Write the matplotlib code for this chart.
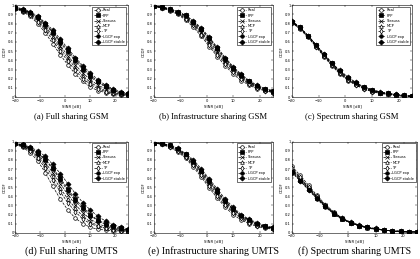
import matplotlib
matplotlib.use("Agg")
import matplotlib.pyplot as plt

# SINR grid where the curves are sampled (dB)
sinr = [-20, -17, -14, -11, -8, -5, -2, 1, 4, 7, 10, 13, 16, 19, 22, 25]

models = ["Real", "PPP", "Strauss", "MCP", "TP", "LGCP exp", "LGCP stable"]

captions = [
    "(a) Full sharing GSM",
    "(b) Infrastructure sharing GSM",
    "(c) Spectrum sharing GSM",
    "(d) Full sharing UMTS",
    "(e) Infrastructure sharing UMTS",
    "(f) Spectrum sharing UMTS",
]

full_gsm = [
    [0.96, 0.93, 0.88, 0.80, 0.70, 0.58, 0.46, 0.35, 0.25, 0.17, 0.11, 0.07, 0.05, 0.03, 0.02, 0.02],
    [0.97, 0.95, 0.92, 0.87, 0.80, 0.71, 0.61, 0.51, 0.41, 0.32, 0.24, 0.17, 0.12, 0.08, 0.05, 0.03],
    [0.97, 0.95, 0.91, 0.85, 0.77, 0.67, 0.56, 0.45, 0.35, 0.26, 0.19, 0.13, 0.09, 0.06, 0.04, 0.03],
    [0.97, 0.94, 0.90, 0.84, 0.75, 0.65, 0.53, 0.42, 0.32, 0.23, 0.16, 0.11, 0.07, 0.05, 0.03, 0.02],
    [0.97, 0.94, 0.89, 0.82, 0.73, 0.62, 0.50, 0.39, 0.29, 0.20, 0.14, 0.09, 0.06, 0.04, 0.03, 0.02],
    [0.97, 0.95, 0.92, 0.86, 0.79, 0.70, 0.59, 0.49, 0.39, 0.30, 0.22, 0.16, 0.11, 0.07, 0.05, 0.03],
    [0.98, 0.96, 0.93, 0.88, 0.81, 0.73, 0.63, 0.53, 0.43, 0.34, 0.26, 0.19, 0.13, 0.09, 0.06, 0.04],
]

infra_gsm = [
    [0.99, 0.97, 0.94, 0.90, 0.84, 0.76, 0.66, 0.55, 0.44, 0.34, 0.25, 0.18, 0.13, 0.09, 0.07, 0.05],
    [0.99, 0.98, 0.96, 0.93, 0.89, 0.82, 0.74, 0.64, 0.53, 0.42, 0.32, 0.24, 0.17, 0.12, 0.09, 0.07],
    [0.99, 0.98, 0.95, 0.92, 0.87, 0.80, 0.71, 0.61, 0.50, 0.39, 0.30, 0.22, 0.16, 0.11, 0.08, 0.06],
    [0.99, 0.97, 0.95, 0.91, 0.86, 0.79, 0.70, 0.59, 0.48, 0.38, 0.29, 0.21, 0.15, 0.11, 0.08, 0.06],
    [0.99, 0.97, 0.95, 0.91, 0.85, 0.78, 0.68, 0.57, 0.46, 0.36, 0.27, 0.20, 0.14, 0.10, 0.07, 0.05],
    [0.99, 0.98, 0.96, 0.93, 0.88, 0.81, 0.73, 0.63, 0.52, 0.41, 0.31, 0.23, 0.17, 0.12, 0.09, 0.06],
    [0.99, 0.98, 0.96, 0.93, 0.89, 0.83, 0.75, 0.65, 0.54, 0.43, 0.33, 0.25, 0.18, 0.13, 0.09, 0.07],
]

spectrum_gsm = [
    [0.81, 0.74, 0.65, 0.55, 0.44, 0.34, 0.25, 0.18, 0.13, 0.09, 0.06, 0.04, 0.03, 0.02, 0.01, 0.01],
    [0.82, 0.76, 0.67, 0.57, 0.46, 0.37, 0.28, 0.21, 0.15, 0.11, 0.08, 0.05, 0.04, 0.02, 0.02, 0.01],
    [0.82, 0.75, 0.66, 0.56, 0.46, 0.36, 0.27, 0.20, 0.14, 0.10, 0.07, 0.05, 0.03, 0.02, 0.01, 0.01],
    [0.82, 0.75, 0.66, 0.56, 0.45, 0.35, 0.26, 0.19, 0.14, 0.10, 0.07, 0.05, 0.03, 0.02, 0.01, 0.01],
    [0.81, 0.75, 0.66, 0.55, 0.45, 0.35, 0.26, 0.19, 0.13, 0.09, 0.06, 0.04, 0.03, 0.02, 0.01, 0.01],
    [0.82, 0.76, 0.67, 0.57, 0.47, 0.37, 0.28, 0.21, 0.15, 0.11, 0.08, 0.05, 0.04, 0.03, 0.02, 0.01],
    [0.83, 0.76, 0.67, 0.57, 0.47, 0.37, 0.29, 0.22, 0.16, 0.11, 0.08, 0.06, 0.04, 0.03, 0.02, 0.01],
]

full_umts = [
    [0.97, 0.94, 0.88, 0.79, 0.66, 0.51, 0.37, 0.25, 0.16, 0.10, 0.06, 0.04, 0.03, 0.02, 0.02, 0.01],
    [0.98, 0.96, 0.93, 0.88, 0.81, 0.71, 0.60, 0.48, 0.37, 0.28, 0.20, 0.14, 0.10, 0.07, 0.05, 0.03],
    [0.98, 0.96, 0.92, 0.86, 0.77, 0.66, 0.54, 0.42, 0.31, 0.22, 0.15, 0.10, 0.07, 0.05, 0.03, 0.02],
    [0.98, 0.95, 0.91, 0.84, 0.74, 0.62, 0.49, 0.37, 0.27, 0.18, 0.12, 0.08, 0.05, 0.04, 0.03, 0.02],
    [0.97, 0.95, 0.90, 0.82, 0.71, 0.58, 0.45, 0.33, 0.23, 0.15, 0.10, 0.07, 0.05, 0.03, 0.02, 0.02],
    [0.98, 0.96, 0.93, 0.87, 0.80, 0.70, 0.58, 0.46, 0.35, 0.26, 0.19, 0.13, 0.09, 0.06, 0.04, 0.03],
    [0.98, 0.97, 0.94, 0.90, 0.84, 0.75, 0.65, 0.54, 0.43, 0.33, 0.25, 0.18, 0.13, 0.09, 0.06, 0.04],
]

infra_umts = [
    [0.99, 0.97, 0.94, 0.89, 0.82, 0.72, 0.61, 0.49, 0.38, 0.28, 0.20, 0.14, 0.10, 0.07, 0.05, 0.04],
    [0.99, 0.98, 0.96, 0.92, 0.86, 0.78, 0.68, 0.57, 0.46, 0.35, 0.26, 0.19, 0.14, 0.10, 0.07, 0.05],
    [0.99, 0.98, 0.95, 0.91, 0.85, 0.77, 0.66, 0.55, 0.44, 0.33, 0.25, 0.18, 0.13, 0.09, 0.07, 0.05],
    [0.99, 0.97, 0.95, 0.91, 0.84, 0.75, 0.65, 0.53, 0.42, 0.32, 0.23, 0.17, 0.12, 0.09, 0.06, 0.05],
    [0.99, 0.97, 0.94, 0.90, 0.83, 0.74, 0.63, 0.51, 0.40, 0.30, 0.22, 0.16, 0.11, 0.08, 0.06, 0.04],
    [0.99, 0.98, 0.96, 0.92, 0.86, 0.78, 0.68, 0.57, 0.45, 0.35, 0.26, 0.19, 0.14, 0.10, 0.07, 0.05],
    [0.99, 0.98, 0.96, 0.93, 0.87, 0.80, 0.70, 0.59, 0.48, 0.37, 0.28, 0.20, 0.15, 0.11, 0.08, 0.06],
]

spectrum_umts = [
    [0.73, 0.63, 0.52, 0.41, 0.31, 0.23, 0.16, 0.11, 0.08, 0.05, 0.04, 0.03, 0.02, 0.01, 0.01, 0.01],
    [0.68, 0.58, 0.48, 0.38, 0.29, 0.21, 0.15, 0.11, 0.08, 0.06, 0.04, 0.03, 0.02, 0.02, 0.01, 0.01],
    [0.70, 0.60, 0.49, 0.39, 0.30, 0.22, 0.16, 0.11, 0.08, 0.06, 0.04, 0.03, 0.02, 0.01, 0.01, 0.01],
    [0.69, 0.59, 0.49, 0.39, 0.29, 0.21, 0.15, 0.11, 0.08, 0.05, 0.04, 0.03, 0.02, 0.01, 0.01, 0.01],
    [0.71, 0.61, 0.50, 0.40, 0.30, 0.22, 0.16, 0.11, 0.08, 0.06, 0.04, 0.03, 0.02, 0.01, 0.01, 0.01],
    [0.67, 0.57, 0.47, 0.37, 0.28, 0.21, 0.15, 0.11, 0.08, 0.06, 0.04, 0.03, 0.02, 0.02, 0.01, 0.01],
    [0.66, 0.57, 0.47, 0.38, 0.29, 0.22, 0.16, 0.12, 0.09, 0.06, 0.05, 0.03, 0.02, 0.02, 0.01, 0.01],
]

panels = [full_gsm, infra_gsm, spectrum_gsm, full_umts, infra_umts, spectrum_umts]

# marker, filled?
styles = [("o", False), ("s", True), ("x", True), ("^", False),
          ("d", False), ("o", True), ("D", True)]

# axes rectangles in figure fractions (left, bottom, width, height)
rects = [
    [0.036, 0.625, 0.269, 0.355],
    [0.366, 0.625, 0.284, 0.355],
    [0.695, 0.625, 0.286, 0.355],
    [0.036, 0.101, 0.269, 0.352],
    [0.366, 0.101, 0.284, 0.352],
    [0.695, 0.101, 0.299, 0.352],
]
caption_y = [0.548, 0.548, 0.548, 0.031, 0.031, 0.031]
caption_size = [6.2, 6.2, 6.2, 7.2, 7.2, 7.2]

fig = plt.figure(figsize=(4.2, 2.59), dpi=100, facecolor="white")

for i, data in enumerate(panels):
    ax = fig.add_axes(rects[i])
    for name, values, (mk, filled) in zip(models, data, styles):
        ax.plot(sinr, values, linestyle="--", color="black", linewidth=0.5,
                marker=mk, markersize=2.6, markeredgewidth=0.5,
                markerfacecolor="black" if filled else "white",
                markeredgecolor="black", label=name)
    ax.set_xlim(-20, 25)
    ax.set_ylim(0, 1)
    ax.set_xticks([-20, -10, 0, 10, 20])
    ax.set_yticks([k / 10 for k in range(11)])
    ax.set_yticklabels(["0"] + [f"{k / 10:.1f}" for k in range(1, 10)] + ["1"])
    ax.tick_params(labelsize=2.6, length=1.2, width=0.3, pad=1, direction="in",
                   top=True, right=True)
    for s in ax.spines.values():
        s.set_linewidth(0.4)
    ax.set_xlabel("SINR [dB]", fontsize=2.8, labelpad=1)
    ax.set_ylabel("CCDF", fontsize=2.8, labelpad=0.5)
    leg = ax.legend(loc="upper right", fontsize=2.6, handlelength=2.2,
                    borderpad=0.4, labelspacing=0.35, handletextpad=0.4,
                    fancybox=False, edgecolor="black", framealpha=1)
    leg.get_frame().set_linewidth(0.4)
    x0, _, w, _ = rects[i]
    fig.text(x0 + w / 2, caption_y[i], captions[i], ha="center", va="center",
             fontsize=caption_size[i], family="Liberation Serif")

fig.savefig("out.png", dpi=100)
